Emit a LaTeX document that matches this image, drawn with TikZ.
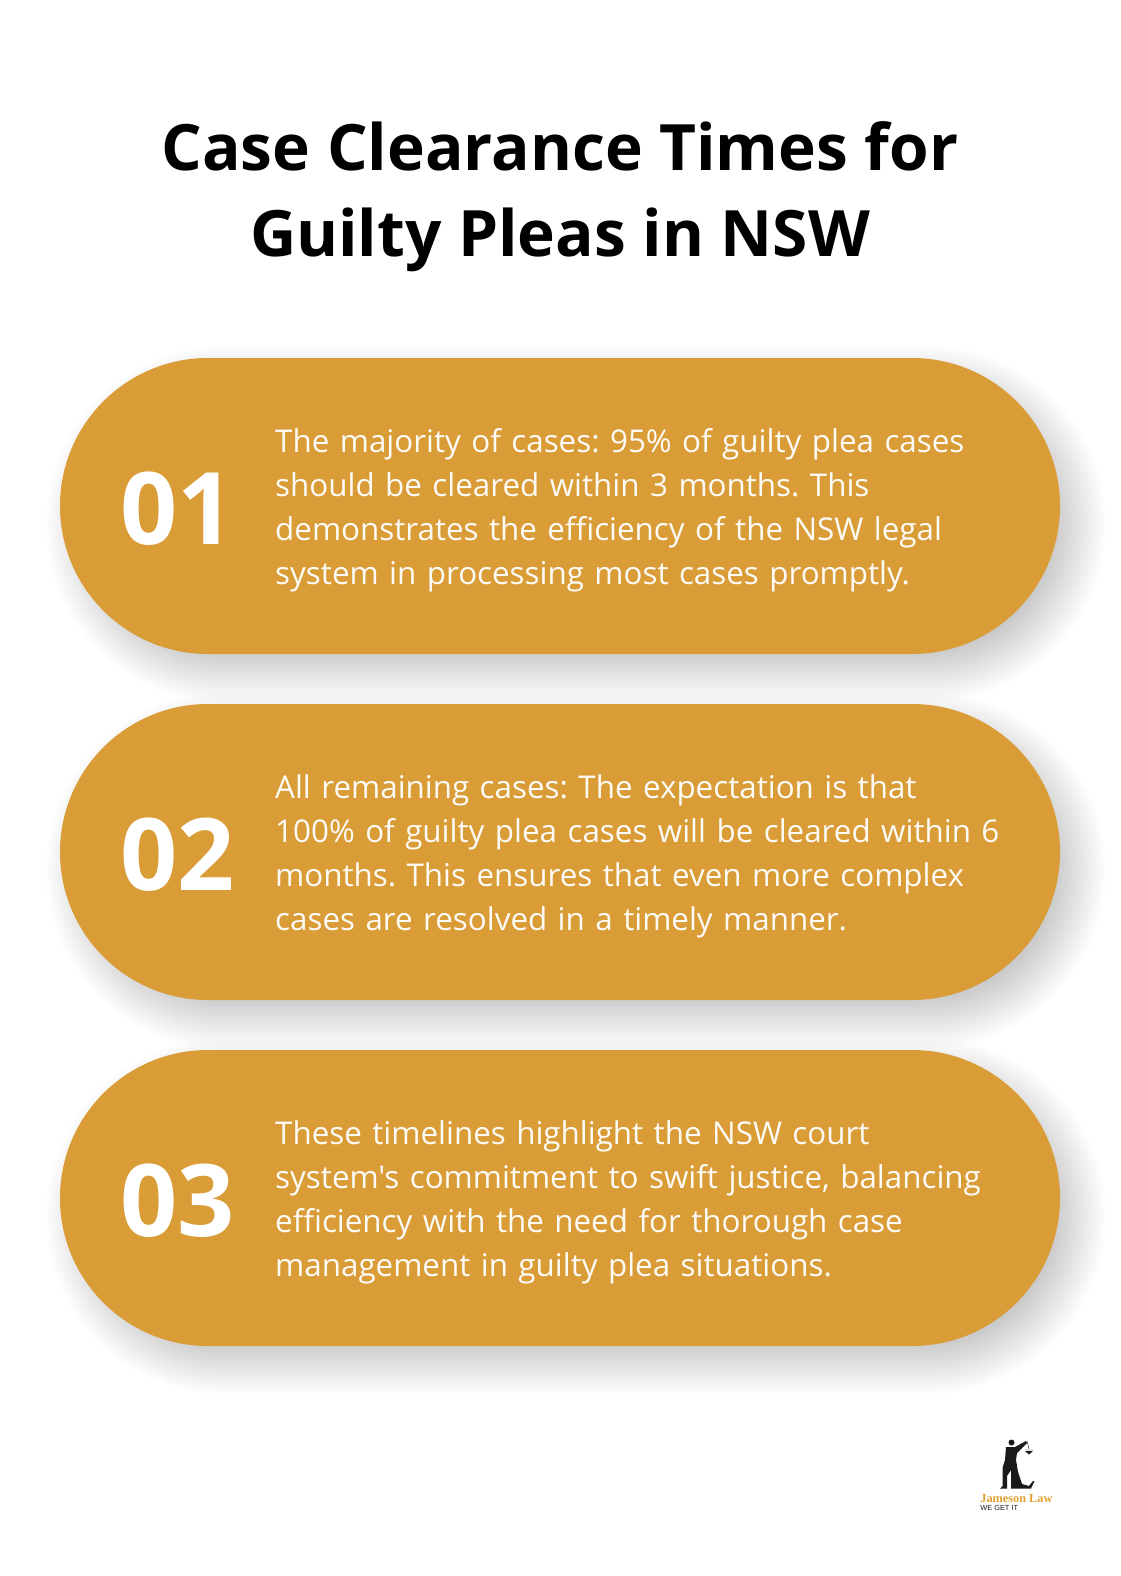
\documentclass[tikz,border=0pt]{standalone}
\usepackage{fontspec}
\setmainfont{Open Sans}
\newfontfamily\bodyfont{Open Sans}
\newfontfamily\logofont{Liberation Serif}
\newfontfamily\taglinefont{Liberation Sans}
\definecolor{pillgold}{HTML}{D99C36}
\definecolor{logogold}{HTML}{E0A030}
\definecolor{logoink}{HTML}{1C1A18}
\tikzset{
    x=0.02cm, y=-0.02cm,
    title/.style={font=\fontsize{36.4}{49}\selectfont\bfseries, align=center, text=black},
    pill/.style={fill=pillgold, rounded corners=2.96cm},
    number/.style={font=\fontsize{57}{60}\selectfont\bfseries, text=white, anchor=west},
    body/.style={font=\bodyfont\frenchspacing\fontsize{17.85}{25}\selectfont, text=white!96!pillgold, anchor=west, align=left, text width=17cm},
}
\newcommand{\softshadow}[1]{%
    \foreach \g in {-22,-20,...,30}{
        \fill[black, opacity=0.0095, rounded corners={(148+\g)*0.02cm}]
            (60+16-\g, #1+18-\g) rectangle (1060+16+\g, #1+296+18+\g);
    }
}
\begin{document}
\begin{tikzpicture}
    \useasboundingbox (0,0) rectangle (1120,1576);
    \fill[white] (0,0) rectangle (1120,1576);
    \node[title] (heading) at (560,197) {Case Clearance Times for\\Guilty Pleas in NSW};
    % first pill
    \softshadow{358}
    \fill[pill] (60,358) rectangle (1060,654);
    \node[number] (n1) at (114,509) {01};
    \node[body] (t1) at (269,510) {The majority of cases: 95\% of guilty plea cases\\should be cleared within 3 months. This\\demonstrates the efficiency of the NSW legal\\system in processing most cases promptly.};
    % second pill
    \softshadow{704}
    \fill[pill] (60,704) rectangle (1060,1000);
    \node[number] (n2) at (114,855) {02};
    \node[body] (t2) at (269,856) {All remaining cases: The expectation is that\\100\% of guilty plea cases will be cleared within 6\\months. This ensures that even more complex\\cases are resolved in a timely manner.};
    % third pill
    \softshadow{1050}
    \fill[pill] (60,1050) rectangle (1060,1346);
    \node[number] (n3) at (114,1201) {03};
    \node[body] (t3) at (269,1202) {These timelines highlight the NSW court\\system's commitment to swift justice, balancing\\efficiency with the need for thorough case\\management in guilty plea situations.};
    % logo
    \fill[logoink] (1011.5,1442.5) circle (3);
    \fill[logoink] (1006,1447) -- (1015,1447) -- (1026,1441) -- (1027,1443) -- (1017,1453) -- (1016,1460) -- (1018,1472) -- (1022,1484) -- (1029,1486) -- (1033,1481) -- (1034.5,1481) -- (1031,1488.5) -- (1011,1488.5) -- (1011,1470) -- (1007,1476) -- (1007,1488.5) -- (1000,1488.5) -- (1002.5,1486) -- (1002.5,1468) -- (1005,1460) -- cycle;
    \draw[logoink, line width=0.25pt] (1027,1441) -- (1029,1449) (1025,1450) -- (1033,1450);
    \fill[logoink] (1025,1451) -- (1033,1451) -- (1029,1454.5) -- cycle;
    \node[font=\logofont\fontsize{7}{8}\selectfont\bfseries, text=logogold, anchor=west, inner sep=0pt] (logoname) at (980,1499) {Jameson Law};
    \node[font=\taglinefont\fontsize{4.2}{5}\selectfont, text=logoink, anchor=west, inner sep=0pt] (logotag) at (980,1508) {WE GET IT};
\end{tikzpicture}
\end{document}
